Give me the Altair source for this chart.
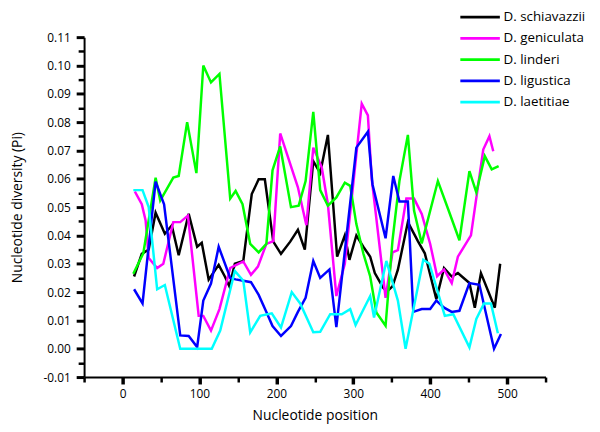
import altair as alt
import pandas as pd

species = ["D. schiavazzii", "D. geniculata", "D. linderi", "D. ligustica", "D. laetitiae"]
colors = ["#000000", "#ff00ff", "#00ff00", "#0000ff", "#00ffff"]

schiavazzii_pos = [15, 25, 34, 43, 55, 64, 73, 86, 97, 103, 112, 125, 133, 139, 146, 157, 168, 177, 185,
                   196, 206, 218, 228, 237, 248, 257, 267, 279, 289, 295, 304, 313, 322, 328, 339, 344, 351,
                   358, 371, 384, 393, 408, 418, 428, 436, 451, 458, 466, 484, 491]
schiavazzii_pi = [0.0255, 0.0335, 0.035, 0.048, 0.0406, 0.0435, 0.033, 0.0476, 0.036, 0.0374, 0.0244,
                  0.0296, 0.0255, 0.022, 0.030, 0.031, 0.0546, 0.0598, 0.0598, 0.0378, 0.0335, 0.0378,
                  0.042, 0.035, 0.0662, 0.062, 0.0755, 0.0325, 0.040, 0.0314, 0.040, 0.036, 0.0325,
                  0.0267, 0.0215, 0.0203, 0.022, 0.0279, 0.0447, 0.038, 0.0337, 0.0175, 0.0285, 0.0255,
                  0.0267, 0.0232, 0.0145, 0.0267, 0.0145, 0.030]

geniculata_pos = [16, 25, 30, 34, 45, 53, 66, 75, 85, 99, 105, 115, 126, 140, 148, 157, 167, 176, 187,
                  196, 205, 228, 239, 248, 259, 267, 278, 289, 311, 319, 324, 342, 351, 358, 369, 379,
                  389, 400, 409, 418, 428, 436, 453, 469, 477, 482]
geniculata_pi = [0.0555, 0.051, 0.0453, 0.032, 0.0285, 0.030, 0.0447, 0.0447, 0.047, 0.0116, 0.0116,
                 0.0064, 0.014, 0.0285, 0.0296, 0.0308, 0.0261, 0.029, 0.037, 0.038, 0.076, 0.057,
                 0.0436, 0.071, 0.064, 0.051, 0.0186, 0.030, 0.0865, 0.0824, 0.060, 0.018, 0.034,
                 0.0348, 0.053, 0.053, 0.0476, 0.037, 0.0256, 0.028, 0.0232, 0.0325, 0.040, 0.0703,
                 0.075, 0.0697]

linderi_pos = [14, 27, 43, 49, 66, 73, 84, 96, 105, 115, 126, 140, 147, 156, 166, 177, 187, 195, 205,
               219, 229, 238, 248, 257, 267, 278, 289, 296, 304, 313, 322, 330, 342, 351, 360, 371, 379,
               389, 410, 424, 438, 451, 460, 471, 480, 489]
linderi_pi = [0.0265, 0.0337, 0.0604, 0.0523, 0.0604, 0.061, 0.080, 0.062, 0.100, 0.094, 0.097, 0.053,
              0.0557, 0.051, 0.037, 0.034, 0.037, 0.063, 0.0714, 0.050, 0.0505, 0.0592, 0.0836, 0.056,
              0.0505, 0.0534, 0.0586, 0.0575, 0.044, 0.0337, 0.0255, 0.0128, 0.0081, 0.0383, 0.0592,
              0.0755, 0.0488, 0.0372, 0.0592, 0.0488, 0.0383, 0.0627, 0.0552, 0.068, 0.0633, 0.0645]

ligustica_pos = [15, 26, 43, 54, 75, 86, 97, 105, 115, 125, 140, 147, 157, 167, 177, 187, 195, 206, 219,
                 228, 238, 248, 257, 269, 278, 304, 319, 325, 342, 352, 360, 371, 378, 389, 400, 408,
                 418, 428, 438, 451, 464, 483, 492]
ligustica_pi = [0.021, 0.016, 0.059, 0.051, 0.0047, 0.0045, 0.0006, 0.017, 0.023, 0.036, 0.025, 0.0245,
                0.024, 0.0235, 0.019, 0.013, 0.008, 0.0045, 0.008, 0.013, 0.018, 0.031, 0.025, 0.028,
                0.0076, 0.071, 0.0766, 0.058, 0.039, 0.061, 0.052, 0.052, 0.013, 0.014, 0.014, 0.017,
                0.0145, 0.013, 0.0134, 0.0232, 0.0226, 0.0, 0.0052]

laetitiae_pos = [14, 26, 34, 45, 55, 75, 116, 127, 146, 157, 166, 179, 194, 206, 220, 231, 248, 257, 270,
                 285, 296, 303, 322, 327, 343, 358, 368, 391, 399, 419, 430, 451, 460, 470, 479, 488]
laetitiae_pi = [0.056, 0.056, 0.050, 0.021, 0.0225, 0.0, 0.0, 0.0064, 0.0275, 0.024, 0.0058, 0.0116,
                0.0125, 0.0075, 0.020, 0.016, 0.0058, 0.006, 0.0122, 0.0122, 0.014, 0.0084, 0.0186,
                0.011, 0.031, 0.017, 0.0, 0.0314, 0.030, 0.0116, 0.0122, 0.0005, 0.0105, 0.016, 0.016,
                0.0055]

x_tick_values = [-50, 0, 50, 100, 150, 200, 250, 300, 350, 400, 450, 500, 550]
y_tick_values = [-0.01, -0.005, 0.0, 0.005, 0.01, 0.015, 0.02, 0.025, 0.03, 0.035, 0.04, 0.045, 0.05,
                 0.055, 0.06, 0.065, 0.07, 0.075, 0.08, 0.085, 0.09, 0.095, 0.1, 0.105, 0.11]

series = [
    (species[0], schiavazzii_pos, schiavazzii_pi),
    (species[1], geniculata_pos, geniculata_pi),
    (species[2], linderi_pos, linderi_pi),
    (species[3], ligustica_pos, ligustica_pi),
    (species[4], laetitiae_pos, laetitiae_pi),
]
rows = []
for name, xs, ys in series:
    for x, y in zip(xs, ys):
        rows.append({"species": name, "pos": x, "pi": y})
df = pd.DataFrame(rows)

FONT = "Open Sans"

x_axis = alt.Axis(
    values=x_tick_values,
    labelExpr="datum.value % 100 == 0 ? datum.label : ''",
    grid=False,
    domainColor="black", domainWidth=2,
    tickColor="black",
    tickSize={"condition": {"test": "datum.value % 100 == 0", "value": 7}, "value": 5},
    tickWidth={"condition": {"test": "datum.value % 100 == 0", "value": 3.5}, "value": 2.5},
    labelFont=FONT, labelFontSize=12, labelColor="black", labelPadding=5,
    title="Nucleotide position",
    titleFont=FONT, titleFontSize=14, titleFontWeight="normal", titleColor="black",
    titlePadding=9,
)

y_axis = alt.Axis(
    values=y_tick_values,
    labelExpr="round(datum.value*1000) % 10 == 0 ? replace(format(datum.value, '.2f'), '\u2212', '-') : ''",
    grid=False,
    domainColor="black", domainWidth=2,
    tickColor="black",
    tickSize={"condition": {"test": "round(datum.value*1000) % 10 == 0", "value": 8}, "value": 6},
    tickWidth={"condition": {"test": "round(datum.value*1000) % 10 == 0", "value": 3}, "value": 2.5},
    labelFont=FONT, labelFontSize=12, labelColor="black", labelPadding=6,
    title="Nucleotide diversity (Pi)",
    titleFont=FONT, titleFontSize=14, titleFontWeight="normal", titleColor="black",
    titlePadding=19,
)

chart = alt.Chart(df).mark_line(strokeWidth=2.5).encode(
    x=alt.X("pos:Q", scale=alt.Scale(domain=[-50, 550], nice=False, zero=False), axis=x_axis),
    y=alt.Y("pi:Q", scale=alt.Scale(domain=[-0.01, 0.11], nice=False, zero=False), axis=y_axis),
    color=alt.Color(
        "species:N",
        scale=alt.Scale(domain=species, range=colors),
        sort=species,
        legend=alt.Legend(
            title=None, orient="none", legendX=394, legendY=-27,
            symbolType="M-4,0L4,0", symbolSize=100, symbolStrokeWidth=3,
            labelFont=FONT, labelFontSize=13.5, labelColor="black", labelOffset=17,
            rowPadding=6.5, labelLimit=200,
        ),
    ),
).properties(
    width=467, height=344,
    autosize=alt.AutoSizeParams(type="none"),
    padding={"left": 77, "top": 27, "right": 47, "bottom": 45},
).configure_view(stroke=None)

chart.save("out.html", embed_options={"renderer": "svg", "actions": False})
